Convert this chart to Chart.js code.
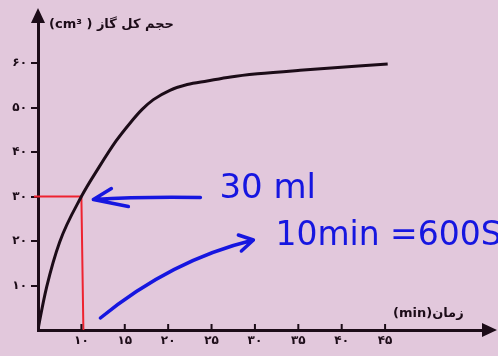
<!DOCTYPE html>
<html>
<head>
<meta charset="utf-8">
<script src="https://cdn.jsdelivr.net/npm/chart.js@4.4.0/dist/chart.umd.min.js"></script>
<style>
    html, body { margin: 0; padding: 0; background: #e2c8dc; }
</style>
</head>
<body>
<canvas id="chart" width="498" height="356"></canvas>
<script>
// داده‌ها - حجم کل گاز بر حسب زمان
const times   = [5, 5.2, 6, 7.5, 10, 12, 14, 15.6, 17, 18.3, 20.2, 22.2, 24.5, 27.2, 30.3, 35.2, 45.3];
const volumes = [0, 2.2, 9.7, 19.8, 30, 36.5, 42.5, 46.5, 49.6, 51.8, 53.9, 55.2, 56, 56.9, 57.6, 58.4, 59.8];
const xTicks = [10, 15, 20, 25, 30, 35, 40, 45];
const yTicks = [10, 20, 30, 40, 50, 60];
const markTime = 10;
const markVolume = 30;

const yTitle = '(cm³ ) حجم کل گاز';
const xTitle = '(min)زمان';
const noteVolume = '30 ml';
const noteTime = '10min =600S';

const INK = '#1c0c18';
const BLUE = '#1616e0';
const RED = '#ee2230';

function toPersian(n) {
    return String(n).replace(/\d/g, d => '۰۱۲۳۴۵۶۷۸۹'[d]);
}

function arrowHead(ctx, x, y, angle, len, half) {
    ctx.save();
    ctx.translate(x, y);
    ctx.rotate(angle);
    ctx.beginPath();
    ctx.moveTo(0, 0);
    ctx.lineTo(-len, -half);
    ctx.lineTo(-len, half);
    ctx.closePath();
    ctx.fill();
    ctx.restore();
}

const decor = {
    id: 'decor',
    beforeDraw(chart) {
        const ctx = chart.ctx;
        ctx.save();
        ctx.fillStyle = '#e2c8dc';
        ctx.fillRect(0, 0, chart.width, chart.height);
        ctx.restore();
    },
    beforeDatasetsDraw(chart) {
        // خطوط قرمز راهنما
        const { ctx, scales: { x, y }, chartArea } = chart;
        const px = x.getPixelForValue(markTime);
        const py = y.getPixelForValue(markVolume);
        ctx.save();
        ctx.strokeStyle = RED;
        ctx.lineWidth = 2;
        ctx.beginPath();
        ctx.moveTo(chartArea.left - 4, py);
        ctx.lineTo(px, py);
        ctx.lineTo(px + 2, chartArea.bottom);
        ctx.stroke();
        ctx.restore();
    },
    afterDraw(chart) {
        const { ctx, scales: { x, y }, chartArea: a } = chart;
        ctx.save();
        // پیکان محورها
        ctx.fillStyle = INK;
        arrowHead(ctx, a.left, a.top - 12, -Math.PI / 2, 15, 7);
        ctx.strokeStyle = INK;
        ctx.lineWidth = 3;
        ctx.beginPath();
        ctx.moveTo(a.left, a.top - 2);
        ctx.lineTo(a.left, a.top + 2);
        ctx.stroke();
        arrowHead(ctx, a.right + 13, a.bottom, 0, 15, 7);

        // تیک‌های محور افقی
        ctx.lineWidth = 2;
        xTicks.forEach(v => {
            const tx = x.getPixelForValue(v);
            ctx.beginPath();
            ctx.moveTo(tx, a.bottom - 6);
            ctx.lineTo(tx, a.bottom);
            ctx.stroke();
        });

        // عنوان محورها
        ctx.font = 'bold 13px "DejaVu Sans"';
        ctx.textBaseline = 'middle';
        ctx.textAlign = 'left';
        ctx.fillText(yTitle, a.left + 11, 25);
        ctx.fillText(xTitle, a.right - 91, a.bottom - 16);

        // یادداشت‌های دست‌نویس
        const mx = x.getPixelForValue(markTime);
        const my = y.getPixelForValue(markVolume);
        ctx.strokeStyle = BLUE;
        ctx.fillStyle = BLUE;
        ctx.lineWidth = 3.5;
        ctx.lineCap = 'round';
        ctx.lineJoin = 'round';
        ctx.beginPath();
        ctx.moveTo(mx + 119, my + 1);
        ctx.quadraticCurveTo(mx + 60, my, mx + 12, my + 3);
        ctx.moveTo(mx + 30, my - 8);
        ctx.lineTo(mx + 12, my + 3);
        ctx.lineTo(mx + 47, my + 10);
        ctx.stroke();

        ctx.beginPath();
        ctx.moveTo(mx + 19, a.bottom - 12);
        ctx.quadraticCurveTo(mx + 90, a.bottom - 70, mx + 172, a.bottom - 90);
        ctx.moveTo(mx + 157, a.bottom - 95);
        ctx.lineTo(mx + 172, a.bottom - 90);
        ctx.lineTo(mx + 160, a.bottom - 79);
        ctx.stroke();

        ctx.font = '34px "DejaVu Sans"';
        ctx.textBaseline = 'alphabetic';
        ctx.fillText(noteVolume, mx + 138, my + 1);
        ctx.font = '33px "DejaVu Sans"';
        ctx.fillText(noteTime, mx + 194, my + 48);
        ctx.restore();
    }
};

new Chart(document.getElementById('chart'), {
    type: 'line',
    data: {
        datasets: [{
            data: times.map((t, i) => ({ x: t, y: volumes[i] })),
            borderColor: INK,
            borderWidth: 3,
            pointRadius: 0,
            fill: false,
            cubicInterpolationMode: 'monotone'
        }]
    },
    options: {
        responsive: false,
        animation: false,
        layout: { padding: { top: 20, right: 14, left: 0, bottom: 0 } },
        plugins: { legend: { display: false }, tooltip: { enabled: false } },
        scales: {
            x: {
                type: 'linear',
                min: 5,
                max: 56.4,
                afterFit: s => { s.height = 26; },
                afterBuildTicks: s => { s.ticks = xTicks.map(v => ({ value: v })); },
                grid: { display: false, drawTicks: false },
                border: { display: true, color: INK, width: 3 },
                ticks: {
                    padding: 4,
                    color: INK,
                    font: { family: 'DejaVu Sans', size: 12, weight: 'bold' },
                    callback: v => toPersian(v),
                    maxRotation: 0
                }
            },
            y: {
                type: 'linear',
                min: 0,
                max: 69.7,
                afterFit: s => { s.width = 38; },
                afterBuildTicks: s => { s.ticks = yTicks.map(v => ({ value: v })); },
                grid: { drawOnChartArea: false, tickLength: 7, color: INK, lineWidth: 2 },
                border: { display: true, color: INK, width: 3 },
                ticks: {
                    padding: 4,
                    color: INK,
                    font: { family: 'DejaVu Sans', size: 12, weight: 'bold' },
                    callback: v => toPersian(v)
                }
            }
        }
    },
    plugins: [decor]
});
</script>
</body>
</html>
